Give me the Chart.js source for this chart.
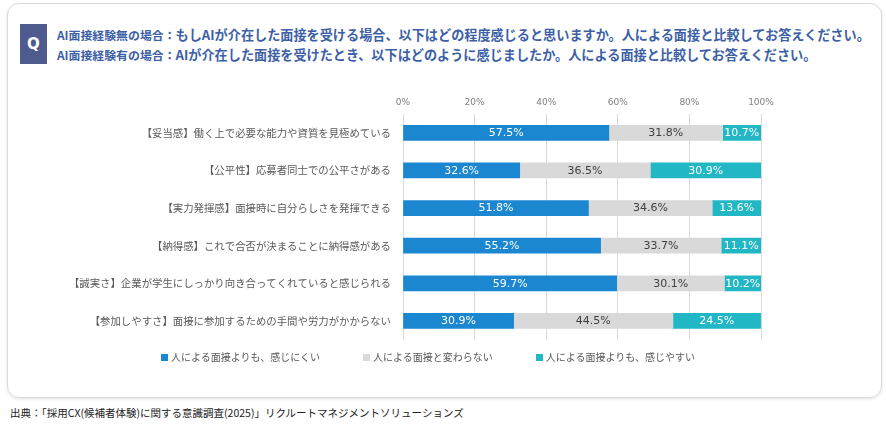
<!DOCTYPE html>
<html lang="ja">
<head>
<meta charset="UTF-8">
<title>AI面接の印象</title>
<script src="https://cdn.jsdelivr.net/npm/chart.js"></script>
<style>
  body {
    margin: 0;
    width: 886px;
    height: 437px;
    background: #fff;
    overflow: hidden;
    position: relative;
    font-family: "Noto Sans CJK JP", sans-serif;
  }
  .box {
    position: absolute;
    left: 7px;
    top: 3px;
    width: 873px;
    height: 393px;
    border: 1.5px solid #dadada;
    border-radius: 12px;
    box-shadow: 0 1px 3px rgba(0, 0, 0, 0.12);
  }
  .badge {
    position: absolute;
    left: 20px;
    top: 24px;
    width: 27px;
    height: 40px;
    background: #4f5b8f;
    color: #fff;
    font: bold 15px "DejaVu Sans", sans-serif;
    line-height: 40px;
    text-align: center;
  }
  .title {
    position: absolute;
    left: 57px;
    color: #3c5fa6;
    font-weight: bold;
    font-size: 13.15px;
    white-space: nowrap;
  }
  .title small { font-size: 11.9px; }
  #line1 { top: 25px; }
  #line2 { top: 45px; }
  .chart-wrap {
    position: absolute;
    left: 0;
    top: 80px;
    width: 886px;
    height: 278px;
  }
  #legend {
    position: absolute;
    left: 161px;
    top: 350px;
    display: flex;
    font-size: 10px;
    color: #595959;
    line-height: 14px;
  }
  #legend span.item { display: flex; align-items: center; margin-right: 43px; }
  #legend i { display: inline-block; width: 7px; height: 7px; margin-right: 3px; }
  .source {
    position: absolute;
    left: 10px;
    top: 405px;
    font-size: 10.5px;
    color: #222;
  }
</style>
</head>
<body>
  <div class="box"></div>
  <div class="badge">Q</div>
  <div class="title" id="line1"><small>AI面接経験無の場合：</small>もしAIが介在した面接を受ける場合、以下はどの程度感じると思いますか。人による面接と比較してお答えください。</div>
  <div class="title" id="line2"><small>AI面接経験有の場合：</small>AIが介在した面接を受けたとき、以下はどのように感じましたか。人による面接と比較してお答えください。</div>

  <div class="chart-wrap"><canvas id="cxChart"></canvas></div>
  <div id="legend"></div>

  <div class="source">出典：「採用CX(候補者体験)に関する意識調査(2025)」リクルートマネジメントソリューションズ</div>

<script>
const categories = [
  '【妥当感】働く上で必要な能力や資質を見極めている',
  '【公平性】応募者同士での公平さがある',
  '【実力発揮感】面接時に自分らしさを発揮できる',
  '【納得感】これで合否が決まることに納得感がある',
  '【誠実さ】企業が学生にしっかり向き合ってくれていると感じられる',
  '【参加しやすさ】面接に参加するための手間や労力がかからない'
];
const seriesNames = [
  '人による面接よりも、感じにくい',
  '人による面接と変わらない',
  '人による面接よりも、感じやすい'
];
const harder = [57.5, 32.6, 51.8, 55.2, 59.7, 30.9];
const same   = [31.8, 36.5, 34.6, 33.7, 30.1, 44.5];
const easier = [10.7, 30.9, 13.6, 11.1, 10.2, 24.5];
const tickValues = [0, 20, 40, 60, 80, 100];

const colors = ['#1c87d1', '#d9d9d9', '#22b7c5'];
const labelColors = ['#ffffff', '#404040', '#ffffff'];

// labels inside each bar segment
const barLabels = {
  id: 'barLabels',
  afterDatasetsDraw(chart) {
    const ctx = chart.ctx;
    ctx.save();
    ctx.font = '11px "DejaVu Sans"';
    ctx.textAlign = 'center';
    ctx.textBaseline = 'middle';
    chart.data.datasets.forEach((ds, i) => {
      chart.getDatasetMeta(i).data.forEach((bar, j) => {
        const p = bar.getProps(['x', 'y', 'base'], true);
        ctx.fillStyle = labelColors[i];
        ctx.fillText(ds.data[j].toFixed(1) + '%', (p.x + p.base) / 2, p.y + 0.5);
      });
    });
    ctx.restore();
  }
};

const chart = new Chart(document.getElementById('cxChart'), {
  type: 'bar',
  data: {
    labels: categories,
    datasets: [harder, same, easier].map((d, i) => ({
      label: seriesNames[i],
      data: d,
      backgroundColor: colors[i],
      borderWidth: 0,
      barThickness: 15
    }))
  },
  options: {
    indexAxis: 'y',
    responsive: true,
    maintainAspectRatio: false,
    animation: false,
    layout: { padding: { left: 0, right: 125, top: 10, bottom: 7 } },
    scales: {
      x: {
        position: 'top',
        stacked: true,
        min: 0,
        max: 100,
        afterFit: s => { s.height = 24; },
        afterBuildTicks: s => { s.ticks = tickValues.map(v => ({ value: v })); },
        ticks: {
          callback: v => v + '%',
          color: '#808080',
          font: { family: 'DejaVu Sans', size: 9 },
          padding: 6
        },
        grid: { color: '#d9d9d9', lineWidth: 1, drawTicks: false },
        border: { display: false }
      },
      y: {
        stacked: true,
        afterFit: s => { s.width = 403; },
        ticks: {
          color: '#595959',
          font: { family: 'Noto Sans CJK JP', size: 10.4 },
          padding: 12
        },
        grid: { display: false, drawTicks: false },
        border: { display: false }
      }
    },
    plugins: {
      legend: { display: false },
      tooltip: { enabled: false }
    }
  },
  plugins: [barLabels]
});

// legend built from the series
document.getElementById('legend').innerHTML = seriesNames.map((n, i) =>
  `<span class="item"><i style="background:${colors[i]}"></i>${n}</span>`
).join('');
</script>
</body>
</html>
